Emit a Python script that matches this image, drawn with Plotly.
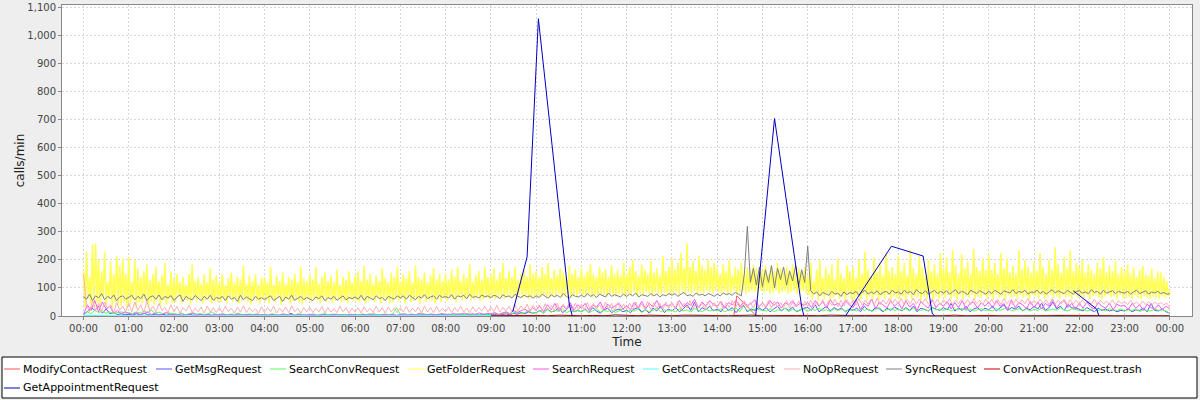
import plotly.graph_objects as go
import pandas as pd

# ---------------- data ----------------
series_names = ["ModifyContactRequest", "GetMsgRequest", "SearchConvRequest",
                "GetFolderRequest", "SearchRequest", "GetContactsRequest",
                "NoOpRequest", "SyncRequest", "ConvActionRequest.trash",
                "GetAppointmentRequest"]
series_colors = ["#ff5555", "#5555ff", "#55ff55", "#ffff55", "#ff55ff",
                 "#55ffff", "#ffafaf", "#808080", "#c00000", "#0000c0"]

# sparse series: (HH:MM, value); None = gap
modify_times = ["14:22", "14:26", "14:50", "14:52"]
modify_vals = [0, 72, 5, 0]

appt_times = ["09:29", "09:48", "10:03", "10:44", "10:48", None,
              "14:51", "15:16", "15:52", "15:55", None,
              "16:50", "17:51", "18:33", "18:45", "18:48", None,
              "21:52", "22:23", "22:26"]
appt_vals = [15, 211, 1061, 39, 0, None,
             0, 705, 33, 0, None,
             0, 249, 214, 10, 0, None,
             90, 25, 0]

# GetFolderRequest: 2-minute samples, one row per hour
folder_rows = [
    [160,30,230,60,140,40,255,30,260,50,200,20,160,70,230,40,120,60,195,30,150,50,215,40,180,35,205,50,150,30],
    [210,40,120,60,200,30,170,50,140,45,160,60,185,30,130,50,150,40,175,60,125,35,145,55,190,40,110,60,160,45],
    [135,50,150,70,120,45,140,60,110,55,150,40,185,60,125,50,140,65,115,45,150,55,120,60,170,45,130,55,145,50],
    [120,50,150,60,110,45,135,65,155,50,120,60,140,45,130,55,180,60,115,50,145,40,125,60,150,55,110,45,135,60],
    [140,55,120,45,175,60,110,50,145,65,125,40,155,55,115,60,140,45,130,55,150,60,120,50,175,40,135,55,125,60],
    [150,50,130,60,175,55,115,45,140,60,155,50,125,65,145,45,120,55,165,60,110,50,140,55,130,45,160,60,120,55],
    [145,55,160,50,125,60,180,45,130,55,150,60,115,50,145,65,125,45,170,55,135,60,120,45,155,50,140,60,175,55],
    [125,60,150,45,135,65,160,50,120,55,180,60,140,45,130,65,155,50,120,60,145,55,170,45,130,60,150,50,125,65],
    [150,55,130,65,165,60,140,50,175,70,125,55,150,60,135,65,185,55,120,60,145,70,160,55,130,60,175,65,140,60],
    [145,65,170,60,130,70,155,65,190,60,135,75,160,65,140,70,175,60,130,75,150,65,165,70,140,60,185,65,150,70],
    [160,70,140,65,175,75,150,70,190,65,135,75,165,70,145,80,170,65,155,75,140,70,180,65,150,75,165,70,140,80],
    [170,75,145,70,160,80,185,65,150,75,140,70,175,80,155,75,165,70,140,80,180,75,150,70,165,80,145,75,190,70],
    [150,80,175,75,200,85,160,70,145,80,185,75,165,85,150,80,195,70,155,85,170,80,145,75,215,85,160,80,175,75],
    [205,80,165,85,190,75,225,90,170,80,260,85,175,80,195,90,160,75,215,85,180,80,165,90,200,85,175,80,190,90],
    [170,85,150,80,185,90,160,75,200,85,145,90,175,80,165,85,190,90,155,80,175,85,160,90,180,85,170,80,155,90],
    [165,85,180,90,150,80,175,85,160,90,190,80,170,85,155,90,175,80,165,85,185,90,150,80,170,85,160,90,175,80],
    [145,75,190,60,125,80,165,55,200,70,135,60,175,80,150,55,185,65,130,75,205,60,150,70,135,55,180,75,160,60],
    [175,55,135,70,200,60,150,75,230,55,165,70,140,60,210,75,155,55,190,70,145,60,225,75,160,55,175,70,150,65],
    [215,60,160,70,190,55,145,75,235,60,170,70,150,65,215,55,175,70,140,60,200,75,160,55,185,70,150,60,225,70],
    [170,65,210,75,155,60,235,70,180,55,150,75,220,60,170,70,195,65,150,75,240,60,175,70,160,65,205,75,165,60],
    [220,70,165,60,190,75,150,65,225,70,170,60,205,75,155,65,180,70,150,60,235,75,165,65,200,70,175,60,155,75],
    [190,70,160,65,225,75,175,60,150,70,200,75,165,65,245,70,185,60,155,75,210,65,170,70,235,60,160,75,190,65],
    [175,70,200,65,155,75,185,60,165,70,150,75,190,65,170,60,210,70,155,75,180,65,160,70,195,60,150,75,175,65],
    [160,65,185,70,150,60,175,75,140,65,165,60,180,70,150,65,145,60,170,70,135,65,160,60,155,70,140,65,125,70],
]
folder_end = 90

# SyncRequest: 4-minute samples
sync_rows = [
    [70,60,78,55,72,65,80,58,70,62,75,55,68,72,60],
    [66,74,58,70,62,78,55,68,72,60,75,58,70,64,73],
    [55,68,75,52,70,62,58,73,65,55,70,60,74,56,66],
    [62,70,55,72,60,66,52,74,58,68,62,55,70,60,65],
    [58,66,72,55,63,70,52,68,60,74,56,64,70,58,66],
    [60,55,68,62,72,54,66,60,70,56,64,72,58,66,62],
    [68,60,74,56,70,64,58,72,62,66,55,70,64,60,72],
    [65,72,60,74,66,58,70,64,76,62,68,72,60,74,66],
    [70,64,76,60,72,68,74,62,78,66,70,64,75,68,72],
    [66,74,70,62,76,68,72,64,78,70,66,74,68,72,64],
    [72,66,78,70,64,76,68,74,66,80,70,64,76,70,68],
    [74,68,80,70,76,66,78,72,68,82,70,76,72,68,78],
    [70,78,72,82,68,76,74,70,80,72,78,68,76,72,80],
    [74,80,70,78,84,72,76,70,82,74,78,72,80,76,70],
    [78,72,82,76,80,74,84,78,72,150,320,120,170,110,175],
    [105,165,120,180,100,170,130,175,110,160,125,180,105,165,120],
    [250,90,78,86,72,84,80,74,88,78,82,70,86,76,84],
    [80,88,74,84,92,78,86,80,90,76,84,88,78,92,82],
    [86,78,92,82,88,76,94,84,80,90,78,86,92,80,88],
    [82,90,78,86,94,80,88,84,76,92,86,80,90,84,78],
    [88,80,92,84,78,90,86,82,94,80,88,84,92,78,86],
    [84,92,80,88,78,86,94,82,90,84,80,92,86,78,88],
    [90,82,86,80,94,84,88,78,92,82,86,90,80,88,84],
    [82,88,78,86,92,80,84,90,78,86,82,88,80,84,78],
]
sync_end = 80

# NoOpRequest: 4-minute samples
noop_rows = [
    [150,40,15,55,20,45,15,50,25,40,12,48,20,35,15],
    [45,15,50,20,40,12,55,18,35,15,45,20,30,12,40],
    [15,35,10,30,18,38,12,28,15,32,10,35,14,30,12],
    [30,12,35,15,28,10,32,14,36,12,30,15,25,10,33],
    [12,30,15,35,10,28,14,32,12,36,15,28,10,30,14],
    [32,12,28,15,34,10,30,14,26,12,35,15,30,10,28],
    [14,30,10,33,15,28,12,35,14,30,10,32,15,28,12],
    [30,14,35,12,28,15,32,10,36,14,30,12,34,15,28],
    [15,32,12,30,16,35,14,28,12,33,15,30,18,35,14],
    [32,16,38,14,30,18,35,15,40,18,36,20,42,16,38],
    [20,40,18,44,22,38,20,45,18,42,24,40,20,46,22],
    [42,22,48,20,44,25,40,22,50,24,45,20,48,26,42],
    [24,46,22,50,26,44,24,52,22,48,26,45,24,50,28],
    [48,26,52,24,46,28,55,25,50,28,46,24,52,30,48],
    [28,52,26,48,30,55,28,50,26,54,30,48,28,52,32],
    [50,30,55,28,52,32,48,30,56,28,50,32,54,30,52],
    [34,56,32,52,36,58,34,54,38,60,34,56,36,58,40],
    [58,38,62,40,56,42,60,38,64,40,58,42,62,44,60],
    [42,62,40,58,44,64,42,60,46,62,42,58,44,60,40],
    [58,42,62,40,56,44,60,42,58,40,62,44,56,42,60],
    [44,60,40,58,42,62,44,56,40,60,42,58,44,62,40],
    [56,42,60,44,58,40,62,42,56,44,60,40,58,42,56],
    [40,58,44,54,42,60,40,56,44,52,42,58,40,54,44],
    [52,40,56,42,50,38,54,40,52,38,50,42,48,40,46],
]
noop_end = 30

# SearchRequest: 5-minute samples
search_rows = [
    [5,40,20,55,15,50,25,35,10,20,8,15],
    [10,5,12,4,8,15,5,10,3,8,12,5],
    [6,3,8,2,5,10,4,6,2,7,3,5],
    [4,7,2,5,3,8,2,6,4,3,7,2],
    [5,3,6,2,4,8,3,5,2,6,3,4],
    [3,6,2,5,4,2,7,3,5,2,4,6],
    [4,2,6,3,5,8,2,4,6,3,5,2],
    [5,8,3,6,4,9,5,3,7,4,6,8],
    [6,4,9,5,7,10,4,8,6,11,5,9],
    [8,12,6,10,15,8,20,12,18,25,15,30],
    [20,35,15,40,22,45,18,38,25,48,20,40],
    [28,45,20,40,32,50,22,42,28,36,45,25],
    [38,22,48,28,52,25,45,32,55,28,42,35],
    [45,28,55,32,48,38,60,30,50,35,55,40],
    [35,52,28,48,40,55,32,50,38,45,58,32],
    [45,32,55,38,50,28,48,40,55,35,46,38],
    [48,30,55,35,52,28,58,38,45,32,55,40],
    [30,55,22,45,35,60,25,50,40,28,55,35],
    [48,25,55,32,45,20,52,38,28,58,30,45],
    [35,52,25,48,30,55,22,45,50,28,48,35],
    [50,28,55,35,45,22,58,30,48,40,25,52],
    [30,50,25,45,35,58,28,48,55,30,45,25],
    [45,28,50,32,25,48,35,28,46,22,42,35],
    [38,22,45,28,40,20,42,30,25,40,22,35],
]
search_end = 25

# SearchConvRequest: 5-minute samples
conv_rows = [
    [10,15,8,20,12,18,10,14,8,12,15,10],
    [12,8,15,10,18,12,20,10,14,8,12,10],
    [8,6,10,5,8,12,6,9,5,7,15,6],
    [5,8,4,7,6,10,5,4,8,5,7,4],
    [6,4,8,5,3,7,5,6,4,8,5,3],
    [5,7,4,6,8,4,5,7,3,6,5,4],
    [6,4,7,5,8,4,6,5,7,5,8,30],
    [6,8,5,7,4,6,9,5,7,6,4,8],
    [5,7,4,8,6,5,9,4,7,6,8,5],
    [6,9,5,8,12,7,10,15,8,12,20,10],
    [12,18,10,22,14,20,16,25,12,18,15,20],
    [15,22,12,18,25,14,20,16,22,12,18,25],
    [14,20,18,25,12,22,16,20,28,15,22,18],
    [20,15,25,18,22,14,28,20,16,24,18,22],
    [18,25,15,22,20,28,16,35,20,18,25,22],
    [20,18,26,15,22,20,28,16,24,18,22,25],
    [16,24,20,28,18,22,15,26,20,24,18,22],
    [22,18,28,20,25,16,24,30,18,22,26,20],
    [24,20,26,18,28,22,20,25,18,30,22,24],
    [20,26,18,24,22,28,20,25,18,22,26,20],
    [22,18,26,20,24,30,18,22,26,20,24,18],
    [24,20,28,18,22,25,20,30,22,18,26,24],
    [20,25,18,22,28,20,24,18,26,22,20,25],
    [18,22,20,25,16,22,20,18,24,20,22,18],
]
conv_end = 10

# GetMsgRequest: 5-minute samples
msg_rows = [
    [5,15,30,20,35,10,25,8,12,5,8,4],
    [6,3,8,4,10,5,3,7,4,6,3,5],
    [3,5,2,4,6,3,2,5,3,4,2,6],
    [2,4,3,5,2,3,6,2,4,3,2,5],
    [3,2,5,3,2,4,3,10,2,3,4,2],
    [2,4,3,2,5,3,2,4,3,5,2,3],
    [3,2,4,3,5,2,3,4,2,3,5,2],
    [4,3,2,5,3,4,2,6,3,4,2,5],
    [3,5,2,4,6,3,5,2,4,3,6,4],
    [4,6,3,5,8,4,10,6,12,8,15,10],
    [12,20,10,25,15,18,30,12,22,40,15,20],
    [15,25,12,30,18,10,22,28,12,20,25,15],
    [20,12,25,30,15,22,10,28,18,35,12,25],
    [18,30,15,25,40,20,50,15,30,22,35,18],
    [25,15,35,20,30,12,28,38,15,25,20,30],
    [20,30,15,25,35,18,28,20,32,15,22,28],
    [30,20,40,15,25,35,18,30,22,28,15,25],
    [20,28,15,35,22,18,30,25,15,28,20,32],
    [25,18,30,20,35,15,28,22,18,30,25,20],
    [30,22,45,18,28,20,35,15,25,30,18,28],
    [22,35,18,28,40,20,30,25,35,18,28,22],
    [35,25,45,20,30,50,25,35,20,42,28,30],
    [25,18,30,22,15,28,20,25,18,22,15,20],
    [18,25,15,22,20,28,15,45,20,18,25,15],
]
msg_end = 10

# GetContactsRequest: 15-minute samples
contacts_rows = [
    [2,1,2,1],[1,2,1,1],[1,1,2,1],[1,2,1,1],[1,1,1,2],[2,1,1,1],
    [1,1,2,1],[1,2,1,1],[2,1,1,2],[1,2,1,3],[2,1,3,2],[3,2,1,2],
    [2,3,2,1],[3,2,4,2],[2,3,2,3],[3,2,3,2],[2,3,2,4],[3,2,3,2],
    [2,4,2,3],[3,2,3,2],[2,3,2,3],[3,2,4,2],[2,3,2,2],[2,2,3,2],
]
contacts_end = 2

# ConvActionRequest.trash: 15-minute samples from 09:00
trash_start_hour = 9
trash_rows = [
    [1,2,1,2],[2,1,3,1],[1,2,1,4],[2,1,3,1],[1,3,2,1],[2,1,2,3],
    [1,2,1,2],[2,1,3,1],[1,2,1,2],[2,1,2,1],[1,3,1,2],[2,1,2,1],
    [1,2,1,2],[2,1,2,1],[1,2,1,1],
]
trash_end = 1

# ---------------- build figure ----------------
BASE = pd.Timestamp("2024-01-01 00:00")


def hourly_series(rows, end, start_hour=0):
    xs, ys = [], []
    for h, row in enumerate(rows):
        n = len(row)
        for i, v in enumerate(row):
            xs.append(BASE + pd.Timedelta(minutes=(start_hour + h) * 60 + i * 60.0 / n))
            ys.append(v)
    xs.append(BASE + pd.Timedelta(hours=24))
    ys.append(end)
    return xs, ys


def sparse_series(times, vals):
    xs = []
    for t in times:
        if t is None:
            xs.append(None)
        else:
            hh, mm = t.split(":")
            xs.append(BASE + pd.Timedelta(hours=int(hh), minutes=int(mm)))
    return xs, vals


data = [
    sparse_series(modify_times, modify_vals),
    hourly_series(msg_rows, msg_end),
    hourly_series(conv_rows, conv_end),
    hourly_series(folder_rows, folder_end),
    hourly_series(search_rows, search_end),
    hourly_series(contacts_rows, contacts_end),
    hourly_series(noop_rows, noop_end),
    hourly_series(sync_rows, sync_end),
    hourly_series(trash_rows, trash_end, trash_start_hour),
    sparse_series(appt_times, appt_vals),
]
line_widths = [1, 1, 1, 1.6, 1, 1, 1, 1, 1, 1]

fig = go.Figure()
for name, color, lw, (xs, ys) in zip(series_names, series_colors, line_widths, data):
    fig.add_trace(go.Scatter(x=xs, y=ys, mode="lines", name=name,
                             line=dict(color=color, width=lw),
                             connectgaps=False, showlegend=False))

FONT = "DejaVu Sans"
W, H = 1200, 400
ML, MR, MT, MB = 62, 8, 5, 84
PW, PH = W - ML - MR, H - MT - MB


def px_x(px):
    return (px - ML) / PW


def px_y(py):
    return (H - MB - py) / PH


axis_common = dict(
    showline=True, linecolor="#888888", linewidth=1, mirror=True,
    ticks="outside", ticklen=3, tickcolor="#888888",
    showgrid=True, gridcolor="#d6d6d6", griddash="2px,2px", gridwidth=1,
    zeroline=False, automargin=False,
    tickfont=dict(family=FONT, size=10, color="#444444"),
    title_font=dict(family=FONT, size=12, color="#222222"),
)

fig.update_layout(
    width=W, height=H,
    margin=dict(l=ML, r=MR, t=MT, b=MB),
    paper_bgcolor="#eeeeee", plot_bgcolor="#ffffff",
    font=dict(family=FONT, size=11, color="#000000"),
    xaxis=dict(type="date",
               range=[BASE - pd.Timedelta(minutes=28.5), BASE + pd.Timedelta(hours=24, minutes=29.4)],
               dtick=3600000, tickformat="%H:%M",
               title=dict(text="Time", standoff=4), **axis_common),
    yaxis=dict(range=[0, 1110], dtick=100, tickformat=",d",
               title=dict(text="calls/min", standoff=0), **axis_common),
)

# legend box (drawn like the original flow legend)
shapes = [dict(type="rect", xref="paper", yref="paper",
               x0=px_x(2), x1=px_x(1197), y0=px_y(398), y1=px_y(357),
               line=dict(color="#000000", width=1), fillcolor="#ffffff", layer="below")]
annotations = []
legend_text_x = [23, 175, 289, 427, 552, 662, 803, 905, 1003, 23]
legend_row_y = [369, 369, 369, 369, 369, 369, 369, 369, 369, 388]
for name, color, tx, ty in zip(series_names, series_colors, legend_text_x, legend_row_y):
    shapes.append(dict(type="line", xref="paper", yref="paper",
                       x0=px_x(tx - 19), x1=px_x(tx - 3), y0=px_y(ty), y1=px_y(ty),
                       line=dict(color=color, width=1)))
    annotations.append(dict(text=name, xref="paper", yref="paper",
                            x=px_x(tx - 2), y=px_y(ty), xanchor="left", yanchor="middle",
                            showarrow=False, font=dict(family=FONT, size=11, color="#000000")))
fig.update_layout(shapes=shapes, annotations=annotations)

fig.write_html("out.html", config={"displayModeBar": False},
               post_script="document.body.style.margin='0px';document.body.style.overflow='hidden';")
